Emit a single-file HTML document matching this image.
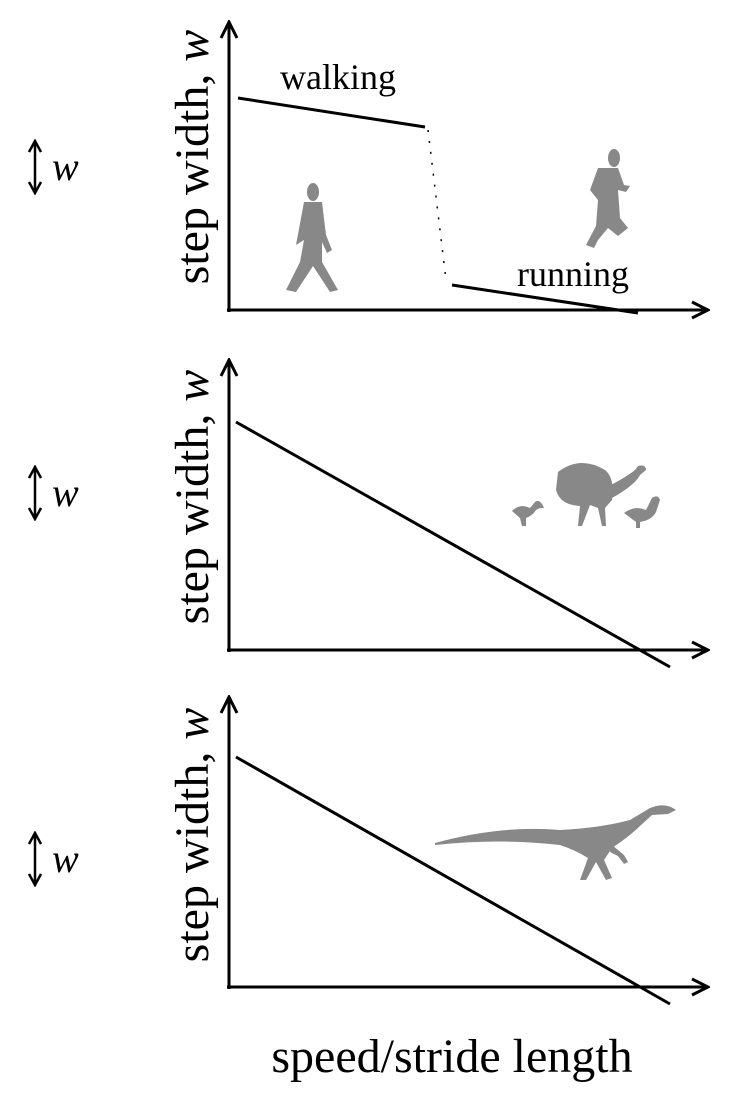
<!DOCTYPE html>
<html><head><meta charset="utf-8"><style>
html,body{margin:0;padding:0;background:#fff;width:754px;height:1101px;overflow:hidden}
text{font-family:"Liberation Serif",serif;fill:#000}
</style></head><body>
<svg width="754" height="1101" viewBox="0 0 754 1101" xmlns="http://www.w3.org/2000/svg">
<defs>
<marker id="ah" viewBox="0 0 20 20" refX="18" refY="10" markerWidth="20" markerHeight="20" markerUnits="userSpaceOnUse" orient="auto">
<path d="M2,2 L18,10 L2,18" fill="none" stroke="#000" stroke-width="3"/>
</marker>
<marker id="sa" viewBox="0 0 14 14" refX="12" refY="7" markerWidth="14" markerHeight="14" markerUnits="userSpaceOnUse" orient="auto">
<path d="M1,1 L12,7 L1,13" fill="none" stroke="#000" stroke-width="2.5"/>
</marker>
</defs>
<g stroke="#000" stroke-width="3" fill="none">
<polyline points="229,312 229,22" marker-end="url(#ah)"/>
<polyline points="227,310 708,310" marker-end="url(#ah)"/>
<line x1="238" y1="98" x2="425" y2="127"/>
<line x1="428" y1="130" x2="446" y2="280" stroke-width="1.5" stroke-dasharray="2,9"/>
<line x1="452" y1="285" x2="638" y2="313"/>
<polyline points="229,652 229,360" marker-end="url(#ah)"/>
<polyline points="227,650 708,650" marker-end="url(#ah)"/>
<line x1="236" y1="422" x2="670" y2="667"/>
<polyline points="229,989 229,697" marker-end="url(#ah)"/>
<polyline points="227,987 708,987" marker-end="url(#ah)"/>
<line x1="236" y1="757" x2="670" y2="1004"/>
</g>
<g stroke="#000" stroke-width="2.5" fill="none">
<line x1="35" y1="167" x2="35" y2="141" marker-end="url(#sa)"/>
<line x1="35" y1="167" x2="35" y2="193" marker-end="url(#sa)"/>
<line x1="35" y1="493" x2="35" y2="467" marker-end="url(#sa)"/>
<line x1="35" y1="493" x2="35" y2="519" marker-end="url(#sa)"/>
<line x1="35" y1="859" x2="35" y2="833" marker-end="url(#sa)"/>
<line x1="35" y1="859" x2="35" y2="885" marker-end="url(#sa)"/>
</g>
<g font-size="40" font-style="italic">
<text x="52" y="180">w</text>
<text x="52" y="506">w</text>
<text x="52" y="872">w</text>
</g>
<g font-size="48">
<text transform="translate(208,157) rotate(-90)" text-anchor="middle">step width, <tspan font-style="italic">w</tspan></text>
<text transform="translate(208,497) rotate(-90)" text-anchor="middle">step width, <tspan font-style="italic">w</tspan></text>
<text transform="translate(208,835) rotate(-90)" text-anchor="middle">step width, <tspan font-style="italic">w</tspan></text>
<text x="452" y="1072" text-anchor="middle">speed/stride length</text>
</g>
<g font-size="36">
<text x="280" y="89">walking</text>
<text x="517" y="286">running</text>
</g>
<g fill="#888">
<ellipse cx="313" cy="192" rx="6" ry="9"/>
<path d="M304,202 L322,202 L326,235 L332,250 L327,253 L322,242 L322,262 L338,290 L330,292 L313,266 L296,292 L286,290 L300,262 L304,240 L296,245 Z"/>
<ellipse cx="614" cy="158" rx="6" ry="9"/>
<path d="M598,168 L618,168 L624,185 L630,186 L626,192 L618,190 L620,218 L628,228 L618,236 L608,228 L598,240 L594,248 L586,245 L596,226 L598,200 L590,190 Z"/>
<path d="M558,472 Q580,455 605,470 Q615,478 612,500 L605,508 L606,526 L602,526 L598,508 L590,505 L582,526 L578,526 L580,506 Q560,505 556,490 Z"/>
<path d="M605,488 Q625,478 635,470 L638,466 Q646,464 646,470 L640,475 Q635,485 612,498 Z"/>
<path d="M512,511 Q520,503 530,508 L535,502 Q540,498 544,508 L540,508 L536,510 Q532,516 526,518 L526,526 L522,526 L520,518 Z"/>
<path d="M624,513 Q635,505 646,510 L652,498 Q658,494 660,500 L656,512 Q652,520 640,522 L640,528 L636,528 L636,522 Z"/>
<path d="M435,843 Q500,825 560,830 Q600,828 630,820 L650,808 Q665,802 676,810 L668,814 L652,815 L640,826 Q630,836 612,848 L604,860 L612,878 L606,880 L596,862 L586,880 L580,880 L588,858 Q575,850 560,845 Q500,838 435,845 Z"/>
<path d="M612,845 L624,855 L628,862 L624,864 L618,856 L610,852 Z"/>
</g>
</svg>
</body></html>
